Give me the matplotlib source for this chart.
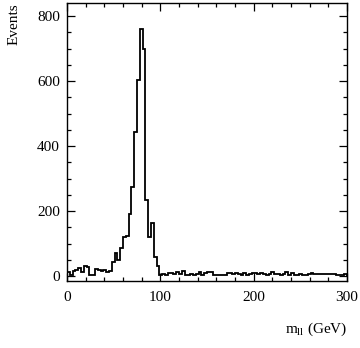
import numpy as np
import matplotlib
matplotlib.use("Agg")
import matplotlib.pyplot as plt
from matplotlib.ticker import MultipleLocator

plt.rcParams['font.family'] = ['Liberation Serif', 'DejaVu Serif']
plt.rcParams['mathtext.fontset'] = 'custom'
plt.rcParams['mathtext.rm'] = 'Liberation Serif'
plt.rcParams['mathtext.it'] = 'Liberation Serif:italic'

bin_width = 3.0
x_min, x_max = 0, 300

low_counts = [12, 2, 15, 18, 26, 14, 30, 28, 3, 3, 22, 18, 15, 20, 12, 15, 44]
peak_counts = [72, 49, 85, 119, 124, 190, 275, 442, 603, 759, 697, 234, 121, 162, 59, 30, 4]
tail_counts = [8, 2, 9, 10, 8, 12, 5, 16, 3, 4, 8, 2, 6, 12, 4, 9, 14, 12, 3, 2,
               2, 2, 3, 9, 11, 5, 10, 7, 3, 10, 4, 8, 11, 11, 7, 9, 5, 3, 6, 12,
               8, 8, 3, 7, 12, 4, 10, 3, 3, 5, 4, 3, 6, 11, 6, 6, 6, 6, 7, 6,
               6, 5, 4, 4, 2, 7]

counts = np.array(low_counts + peak_counts + tail_counts, dtype=float)
edges = np.arange(len(counts) + 1) * bin_width

x_ticks = [0, 100, 200, 300]
y_ticks = [0, 200, 400, 600, 800]

fig = plt.figure(figsize=(3.6, 3.48), dpi=100)
ax = fig.add_axes([67/360, 67/348, 280/360, 278/348])
ax.stairs(counts, edges, color='black', linewidth=1.3)

ax.set_xlim(x_min, x_max)
ax.set_ylim(-15, 840)
ax.set_xticks(x_ticks)
ax.set_yticks(y_ticks)
ax.xaxis.set_minor_locator(MultipleLocator(20))
ax.yaxis.set_minor_locator(MultipleLocator(50))
ax.tick_params(which='both', direction='in', top=True, right=True, labelsize=11)
ax.tick_params(which='major', length=6, width=0.9)
ax.tick_params(which='minor', length=3, width=0.9)
ax.tick_params(axis='x', which='major', pad=7)
ax.tick_params(axis='y', which='major', pad=5)
for s in ax.spines.values():
    s.set_linewidth(1.0)

ax.set_xlabel(r'm$_{\rm ll}$ (GeV)', fontsize=11, loc='right', labelpad=12)
ax.set_ylabel('Events', fontsize=11, loc='top', labelpad=12)

fig.savefig('out.png', dpi=100)
